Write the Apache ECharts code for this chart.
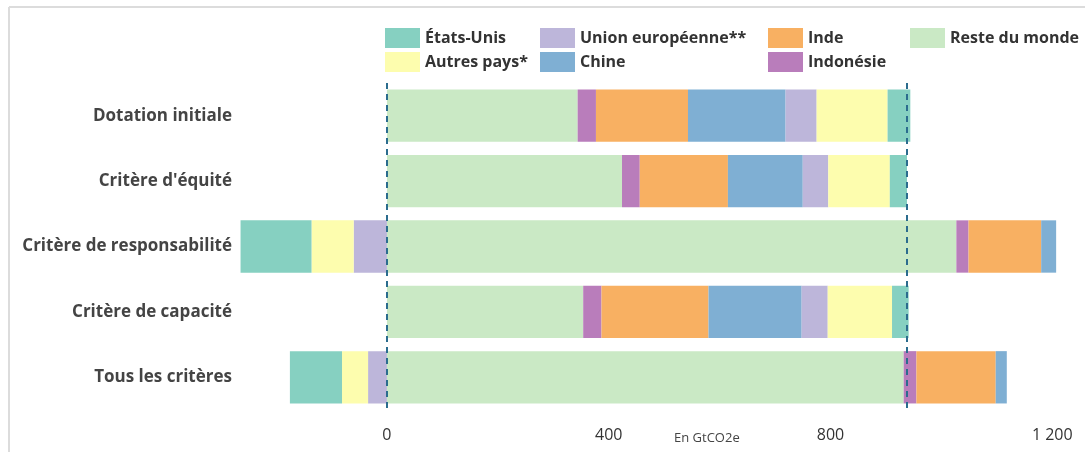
<!DOCTYPE html>
<html>
<head>
<meta charset="utf-8">
<script src="https://cdn.jsdelivr.net/npm/echarts@6/dist/echarts.min.js"></script>
<style>
  html, body {margin: 0; padding: 0; background: #fff;}
  #main {width: 1085px; height: 452px;}
</style>
</head>
<body>
<div id="main"></div>
<script>
function $(id) {return document.getElementById(id)}

// categories, top to bottom
var criteres = ['Dotation initiale', "Critère d'équité", 'Critère de responsabilité', 'Critère de capacité', 'Tous les critères'];

// values in GtCO2e (stack order from 0 outwards)
var resteMonde = [344, 424, 1027, 354, 932];
var indonesie = [33, 32, 22, 33, 23];
var inde = [166, 159, 131, 193, 143];
var chine = [176, 135, 27, 168, 20];
var unionEuro = [56, 46, -60, 47, -34];
var autresPays = [128, 111, -76, 116, -47];
var etatsUnis = [41, 31, -128, 30, -94];

var budget = 938;
var xTicks = [0, 400, 800, 1200];

var couleurs = {
  'États-Unis': '#86d0c1',
  'Autres pays*': '#fdfdae',
  'Union européenne**': '#bdb6da',
  'Chine': '#7fafd3',
  'Inde': '#f8b062',
  'Indonésie': '#b97dbb',
  'Reste du monde': '#cae9c5'
};

var seriesData = [
  ['Reste du monde', resteMonde],
  ['Indonésie', indonesie],
  ['Inde', inde],
  ['Chine', chine],
  ['Union européenne**', unionEuro],
  ['Autres pays*', autresPays],
  ['États-Unis', etatsUnis]
];

var series = seriesData.map(function (s, i) {
  var item = {
    name: s[0],
    type: 'bar',
    stack: 'total',
    barCategoryGap: '20%',
    data: s[1],
    itemStyle: {color: couleurs[s[0]]},
    emphasis: {disabled: true}
  };
  if (i === 0) {
    item.markLine = {
      silent: true,
      symbol: 'none',
      label: {show: false},
      lineStyle: {color: '#2b6c8e', type: [6, 5], width: 2},
      data: [{xAxis: 0}, {xAxis: budget}]
    };
  }
  return item;
});

function legendCol(left, names) {
  return {
    orient: 'vertical',
    left: left,
    top: 28,
    itemWidth: 35,
    itemHeight: 20,
    itemGap: 4,
    padding: 0,
    icon: 'rect',
    selectedMode: false,
    textStyle: {color: '#333', fontSize: 16, fontWeight: 'bold', fontFamily: 'Open Sans'},
    data: names
  };
}

var chart = echarts.init($('main'));
chart.setOption({
  animation: false,
  backgroundColor: '#fff',
  graphic: [
    {type: 'line', shape: {x1: 9, y1: 7, x2: 1085, y2: 7}, style: {stroke: '#dcdcdc', lineWidth: 2}},
    {type: 'line', shape: {x1: 9, y1: 7, x2: 9, y2: 452}, style: {stroke: '#dcdcdc', lineWidth: 2}},
    {type: 'text', left: 674, top: 432, style: {text: 'En GtCO2e', fill: '#444', fontSize: 13, fontFamily: 'Open Sans'}}
  ],
  legend: [
    legendCol(385, ['États-Unis', 'Autres pays*']),
    legendCol(540, ['Union européenne**', 'Chine']),
    legendCol(768, ['Inde', 'Indonésie']),
    legendCol(910, ['Reste du monde'])
  ],
  grid: {left: 240, right: 15, top: 83, bottom: 42, containLabel: false},
  xAxis: {
    type: 'value',
    min: -265,
    max: 1232,
    splitLine: {show: false},
    axisLine: {show: false},
    axisTick: {show: false},
    axisLabel: {
      customValues: xTicks,
      margin: 17,
      color: '#333',
      fontSize: 16,
      fontFamily: 'Open Sans',
      formatter: function (v) {
        return v >= 1000 ? String(v).replace(/(\d)(\d{3})$/, '$1 $2') : String(v);
      }
    }
  },
  yAxis: {
    type: 'category',
    inverse: true,
    data: criteres,
    axisLine: {show: false},
    axisTick: {show: false},
    axisLabel: {
      margin: 8,
      color: '#444',
      fontSize: 17,
      fontWeight: 'bold',
      fontFamily: 'Open Sans'
    }
  },
  series: series
});
</script>
</body>
</html>
